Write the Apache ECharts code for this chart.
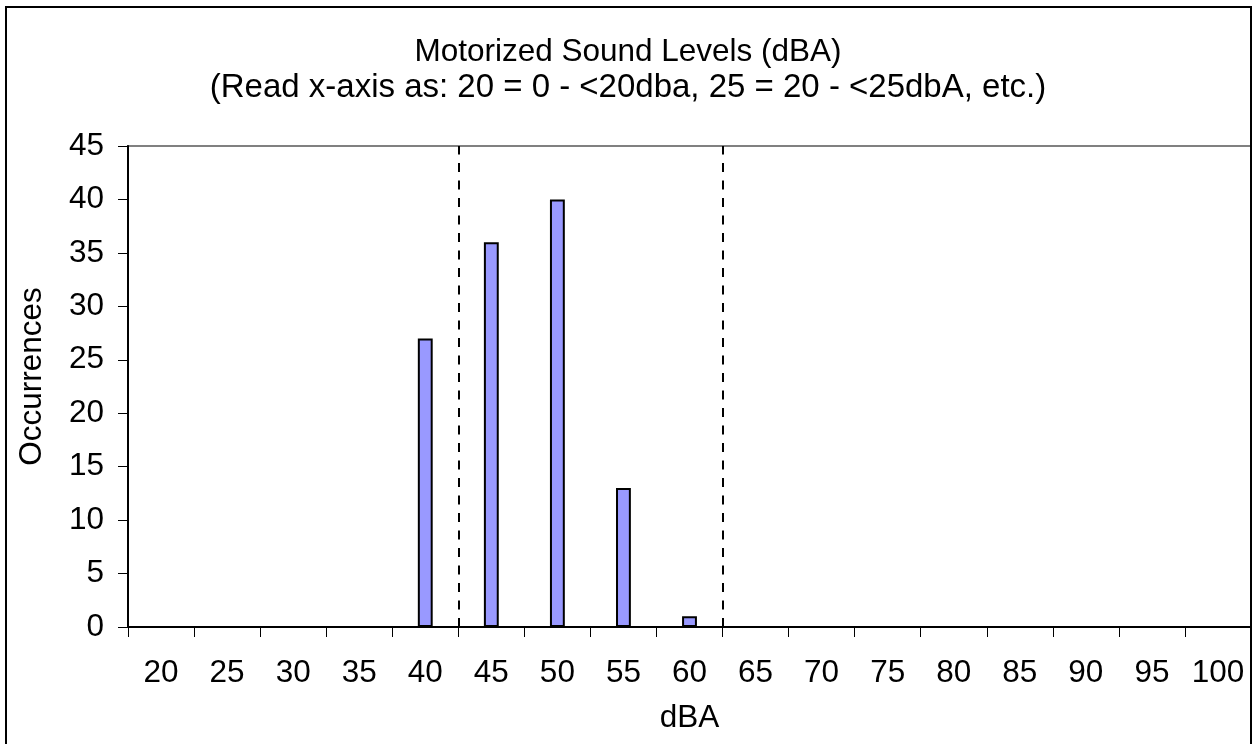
<!DOCTYPE html>
<html><head><meta charset="utf-8">
<script src="https://cdn.jsdelivr.net/npm/echarts@6/dist/echarts.min.js"></script>
<style>html,body{margin:0;padding:0;background:#fff}#c{width:1256px;height:744px}</style>
</head><body><div id="c"></div>
<script>
const categories = ['20','25','30','35','40','45','50','55','60','65','70','75','80','85','90','95','100'];
const occurrences = [0,0,0,0,27,36,40,13,1,0,0,0,0,0,0,0,0];
const yTicks = {min:0, max:45, interval:5};
const dashedBoundaries = [42.5, 62.5];
const titleLine1 = 'Motorized Sound Levels (dBA)';
const titleLine2 = '(Read x-axis as: 20 = 0 - <20dba, 25 = 20 - <25dbA, etc.)';

const chart = echarts.init(document.getElementById('c'), null, {renderer:'canvas'});
const font = '"Liberation Sans", Arial, sans-serif';
const fs = 31.5;
chart.setOption({
  animation:false,
  backgroundColor:'#fff',
  title:{text:'{a|' + titleLine1 + '}\n{b|' + titleLine2 + '}', left:'center', top:29,
    textStyle:{fontFamily:font, fontSize:fs, fontWeight:'normal', color:'#000', lineHeight:36,
      rich:{
        a:{fontFamily:font, fontSize:fs, color:'#000', lineHeight:36},
        b:{fontFamily:font, fontSize:33, color:'#000', lineHeight:36}
      }}},
  graphic:[{type:'rect', shape:{x:6, y:7, width:1245, height:760}, style:{fill:'none', stroke:'#000', lineWidth:2}, silent:true, z:100}],
  grid:{left:128, top:146, right:5, bottom:117, show:true, borderColor:'#808080', borderWidth:2, backgroundColor:'#fff'},
  xAxis:[{
    type:'category', data:categories, name:'dBA', nameLocation:'middle', nameGap:75,
    nameTextStyle:{fontFamily:font, fontSize:fs, color:'#000'},
    axisLine:{lineStyle:{color:'#000', width:2}},
    axisTick:{show:true, length:10, alignWithLabel:false, lineStyle:{color:'#000', width:1}},
    axisLabel:{fontFamily:font, fontSize:fs, color:'#000', margin:30, interval:0},
    splitLine:{show:false}
  },{
    type:'value', min:17.5, max:102.5, show:false
  }],
  yAxis:{
    type:'value', min:yTicks.min, max:yTicks.max, interval:yTicks.interval,
    name:'Occurrences', nameLocation:'middle', nameGap:80, nameRotate:90,
    nameTextStyle:{fontFamily:font, fontSize:fs, color:'#000', padding:[0,0,0,20]},
    axisLine:{show:true, lineStyle:{color:'#000', width:2}},
    axisTick:{show:true, length:10, lineStyle:{color:'#000', width:1}},
    axisLabel:{fontFamily:font, fontSize:fs, color:'#000', margin:24},
    splitLine:{show:false}
  },
  series:[{
    type:'bar', data:occurrences, barWidth:'22.5%', xAxisIndex:0,
    itemStyle:{color:'#9999FF', borderColor:'#000', borderWidth:2}
  },{
    type:'line', xAxisIndex:1, data:[], silent:true,
    markLine:{symbol:'none', silent:true, label:{show:false},
      lineStyle:{color:'#000', type:[9,8.5], width:2},
      data:dashedBoundaries.map(v=>({xAxis:v}))}
  }]
});
</script></body></html>
